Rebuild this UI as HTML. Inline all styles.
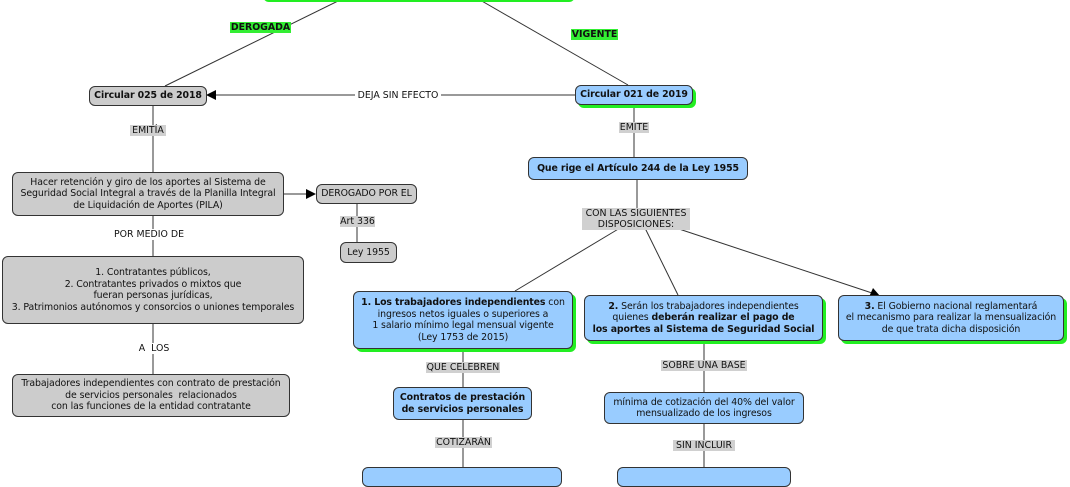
<!DOCTYPE html>
<html><head><meta charset="utf-8"><style>
body{margin:0;width:1070px;height:470px;overflow:hidden;background:#fff;font-family:"DejaVu Sans","Liberation Sans",sans-serif;font-size:9.4px;color:#111;position:relative}
.b{position:absolute;box-sizing:border-box;border:1px solid #333;border-radius:6px;display:flex;align-items:center;justify-content:center;text-align:center;line-height:11.5px;white-space:nowrap;letter-spacing:-0.1px}
.g{background:#cccccc}
.u{background:#99ccff;box-shadow:3px 3px 0 #22ee22}
.u2{background:#99ccff}
.l{position:absolute;background:#d0d0d0;text-align:center;line-height:11px;font-size:9.4px;white-space:nowrap}
.gr{background:#33ee33;font-weight:bold}
svg{position:absolute;left:0;top:0}
</style></head><body>
<svg width="1070" height="470">
<g stroke="#333" stroke-width="1" fill="none">
<line x1="340" y1="0" x2="165" y2="86"/>
<line x1="480" y1="0" x2="628" y2="85"/>
<line x1="575" y1="95" x2="215" y2="95"/>
<line x1="153" y1="106" x2="153" y2="172"/>
<line x1="284" y1="194" x2="308" y2="194"/>
<line x1="357" y1="203" x2="357" y2="242"/>
<line x1="153" y1="216" x2="153" y2="256"/>
<line x1="153" y1="324" x2="153" y2="374"/>
<line x1="634" y1="105" x2="634" y2="157"/>
<line x1="637" y1="180" x2="637" y2="210"/>
<line x1="620" y1="228" x2="515" y2="291"/>
<line x1="645" y1="228" x2="678" y2="295"/>
<line x1="670" y1="226" x2="872" y2="293"/>
<line x1="463" y1="349" x2="463" y2="387"/>
<line x1="463" y1="420" x2="463" y2="470"/>
<line x1="704" y1="341" x2="704" y2="392"/>
<line x1="704" y1="424" x2="704" y2="470"/>
</g>
<g fill="#000">
<polygon points="206,95 216,90 216,100"/>
<polygon points="316,194 306,189 306,199"/>
<polygon points="880,296 869,297 873,288"/>
</g>
</svg>
<div class="b" style="left:263px;top:-20px;width:312px;height:22px;border:2px solid #22ee22;background:#fff;border-radius:6px"></div>
<div class="l gr" style="left:230px;top:22px;width:61px">DEROGADA</div>
<div class="l gr" style="left:571px;top:29px;width:47px">VIGENTE</div>
<div class="b g" style="left:89px;top:86px;width:118px;height:20px;font-weight:bold">Circular 025 de 2018</div>
<div class="l" style="left:355px;top:90px;width:86px;background:#fff">DEJA SIN EFECTO</div>
<div class="b u" style="left:575px;top:85px;width:118px;height:20px;font-weight:bold">Circular 021 de 2019</div>
<div class="l" style="left:130px;top:125px;width:36px">EMITÍA</div>
<div class="l" style="left:619px;top:122px;width:30px">EMITE</div>
<div class="b g" style="left:12px;top:172px;width:272px;height:44px">Hacer retención y giro de los aportes al Sistema de<br>Seguridad Social Integral a través de la Planilla Integral<br>de Liquidación de Aportes (PILA)</div>
<div class="b g" style="left:316px;top:184px;width:101px;height:20px">DEROGADO POR EL</div>
<div class="l" style="left:340px;top:216px;width:35px">Art 336</div>
<div class="b g" style="left:340px;top:242px;width:57px;height:21px">Ley 1955</div>
<div class="b u2" style="left:528px;top:157px;width:220px;height:23px;font-weight:bold">Que rige el Artículo 244 de la Ley 1955</div>
<div class="l" style="left:582px;top:208px;width:108px">CON LAS SIGUIENTES<br>DISPOSICIONES:</div>
<div class="l" style="left:113px;top:229px;width:72px;background:#fff">POR MEDIO DE</div>
<div class="b g" style="left:2px;top:256px;width:302px;height:68px">1. Contratantes públicos,<br>2. Contratantes privados o mixtos que<br>fueran personas jurídicas,<br>3. Patrimonios autónomos y consorcios o uniones temporales</div>
<div class="l" style="left:133px;top:343px;width:42px;background:#fff">A&nbsp; LOS</div>
<div class="b g" style="left:12px;top:374px;width:278px;height:43px">Trabajadores independientes con contrato de prestación<br>de servicios personales&nbsp; relacionados<br>con las funciones de la entidad contratante</div>
<div class="b u" style="left:353px;top:291px;width:220px;height:58px"><span><b>1. Los trabajadores independientes</b> con<br>ingresos netos iguales o superiores a<br>1 salario mínimo legal mensual vigente<br>(Ley 1753 de 2015)</span></div>
<div class="b u" style="left:584px;top:295px;width:239px;height:46px"><span><b>2.</b> Serán los trabajadores independientes<br>quienes <b>deberán realizar el pago de<br>los aportes al Sistema de Seguridad Social</b></span></div>
<div class="b u" style="left:838px;top:295px;width:226px;height:46px"><span><b>3.</b> El Gobierno nacional reglamentará<br>el mecanismo para realizar la mensualización<br>de que trata dicha disposición</span></div>
<div class="l" style="left:426px;top:362px;width:74px">QUE CELEBREN</div>
<div class="l" style="left:661px;top:360px;width:86px">SOBRE UNA BASE</div>
<div class="b u2" style="left:393px;top:387px;width:139px;height:33px;font-weight:bold">Contratos de prestación<br>de servicios personales</div>
<div class="b u2" style="left:604px;top:392px;width:200px;height:32px">mínima de cotización del 40% del valor<br>mensualizado de los ingresos</div>
<div class="l" style="left:435px;top:437px;width:57px">COTIZARÁN</div>
<div class="l" style="left:673px;top:440px;width:62px">SIN INCLUIR</div>
<div class="b u2" style="left:362px;top:467px;width:200px;height:20px"></div>
<div class="b u2" style="left:617px;top:467px;width:174px;height:20px"></div>
</body></html>
